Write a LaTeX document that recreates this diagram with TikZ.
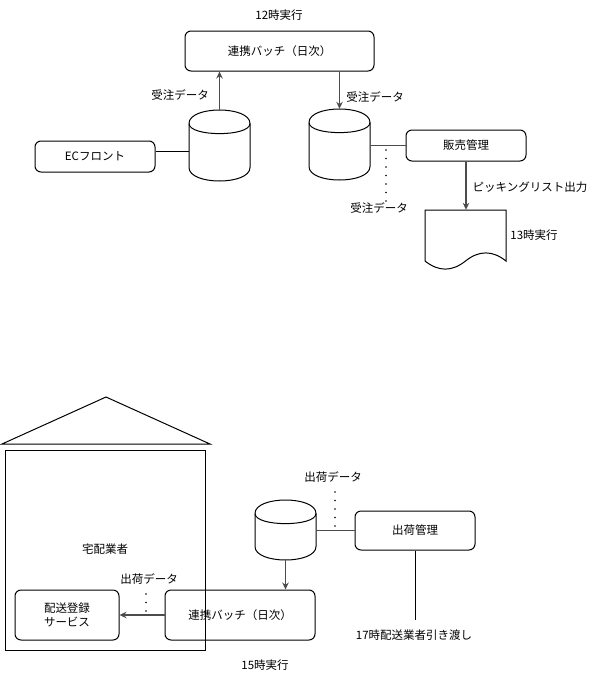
\documentclass[tikz,border=0pt]{standalone}
\usepackage{fontspec}
\setmainfont{Noto Sans CJK JP}
\usetikzlibrary{arrows.meta}
\tikzset{
  every node/.style={font=\fontsize{11.5}{14.5}\selectfont},
  box/.style={draw, rounded corners=6pt, line width=1pt, align=center, inner sep=0pt},
  lbl/.style={inner sep=0pt, align=center},
  conn/.style={draw=black!70, line width=1.2pt},
  arr/.style={conn, -{Stealth[length=7pt,width=6.5pt]}},
  dots/.style={line width=1.8pt, dash pattern=on 0pt off 8.5pt, line cap=round},
  shp/.style={line width=1pt},
  hit/.style={inner sep=0pt, draw=none},
}
\newcommand\mycyl[6]{%
  \draw[shp] (#2,#3+#6) .. controls (#2,#3-#6/3) and (#2+#4,#3-#6/3) .. (#2+#4,#3+#6)
     -- (#2+#4,#3+#5-#6) .. controls (#2+#4,#3+#5+#6/3) and (#2,#3+#5+#6/3) .. (#2,#3+#5-#6) -- cycle;
  \draw[shp] (#2,#3+#6) .. controls (#2,#3+2*#6) and (#2+#4,#3+2*#6) .. (#2+#4,#3+#6);
  \node[hit, minimum width=#4pt, minimum height=#5pt] (#1) at (#2+#4/2,#3+#5/2) {};
}
\begin{document}
\begin{tikzpicture}[x=1pt,y=-1pt]
\useasboundingbox (0,0) rectangle (596,681);
\fill[white] (0,0) rectangle (596,681);

% ---------- upper part ----------
\node[lbl] (t12) at (279,15) {12時実行};
\node[box, minimum width=189pt, minimum height=40pt] (batch1) at (279.5,51) {連携バッチ（日次）};
\mycyl{cyl1}{189}{110}{61}{71}{13.5}
\mycyl{cyl2}{309}{109}{61}{71}{13.5}
\node[box, minimum width=120pt, minimum height=31pt] (ec) at (95,156.5) {ECフロント};
\node[box, minimum width=120pt, minimum height=31pt] (hanbai) at (466,145.5) {販売管理};
\node[lbl] (jd1) at (180,95) {受注データ};
\node[lbl] (jd2) at (375,97) {受注データ};
\node[lbl] (jd3) at (379,208) {受注データ};
\node[lbl] (pick) at (530,187) {ピッキングリスト出力};
\node[lbl] (t13) at (534,235) {13時実行};

% document shape
\draw[shp] (425,210) -- (506,210) -- (506,261)
  .. controls (492.5,250.2) and (479,250.2) .. (465.5,261)
  .. controls (452,271.8) and (438.5,271.8) .. (425,261) -- cycle;
\node[hit, minimum width=81pt, minimum height=60pt] (doc) at (465.5,240) {};

\draw[shp] ([yshift=5.5pt]ec.east) -- ([yshift=5.5pt]ec.east -| cyl1.west);
\draw[arr] (cyl1.north) -- (cyl1.north |- batch1.south);
\draw[arr] (batch1.south -| cyl2.north) -- (cyl2.north);
\draw[conn] (hanbai.west) -- (hanbai.west -| cyl2.east);
\coordinate (d1) at (386,150);
\draw[dots] (d1) -- (d1 |- jd3.north);
\draw[arr] (hanbai.south) -- (hanbai.south |- doc.north);

% ---------- lower part ----------
\draw[shp] (2,444) -- (106,397) -- (210,444) -- cycle;
\draw[shp] (5,450) rectangle (205,650);
\node[lbl] (takuhai) at (105,549) {宅配業者};
\node[lbl] (sd1) at (149,579) {出荷データ};
\node[box, minimum width=104pt, minimum height=50pt] (svc) at (67,615) {配送登録\\サービス};
\node[box, minimum width=150pt, minimum height=50pt] (batch2) at (240,615) {連携バッチ（日次）};
\node[lbl] (t15) at (265,665) {15時実行};
\mycyl{cyl3}{255}{500}{61}{60}{13.5}
\node[box, minimum width=120pt, minimum height=39pt] (shukka) at (415,530.5) {出荷管理};
\node[lbl] (sd2) at (333,477) {出荷データ};
\node[lbl] (t17) at (414,635) {17時配送業者引き渡し};

\draw[arr] (batch2.west) -- (svc.east);
\coordinate (d2) at (146,594);
\draw[dots] (d2) -- (146,612);
\draw[arr] (cyl3.south) -- (cyl3.south |- batch2.north);
\draw[conn] (shukka.west) -- (shukka.west -| cyl3.east);
\coordinate (d3) at (335,492);
\draw[dots] (d3) -- (335,528);
\coordinate (e17) at (415,620);
\draw[shp] (shukka.south) -- (e17);
\end{tikzpicture}
\end{document}
